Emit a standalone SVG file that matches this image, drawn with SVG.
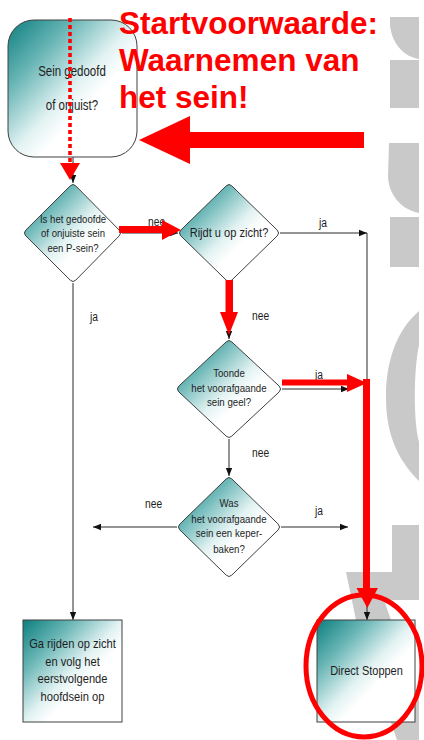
<svg xmlns="http://www.w3.org/2000/svg" width="424" height="740" viewBox="0 0 424 740">
<style>
.node{stroke:#404040;stroke-width:1;fill:url(#teal)}
.t{font-family:"Liberation Sans",Arial,sans-serif;fill:#1e1e1e;text-anchor:middle}
.lbl{font-family:"Liberation Sans",Arial,sans-serif;fill:#1e1e1e;font-size:12.5px}
.ca{stroke:#2a2a2a;stroke-width:1;fill:none;marker-end:url(#ah)}
.red{fill:#ff0000}
.wm{fill:#c9c9c9}
.title{font-family:"Liberation Sans",Arial,sans-serif;font-weight:bold;font-size:31.5px;fill:#ff0000}
</style>
<defs>
<linearGradient id="teal" x1="0" y1="0" x2="1" y2="1">
<stop offset="0" stop-color="#0d7e7e"/>
<stop offset="0.25" stop-color="#68b5b5"/>
<stop offset="0.5" stop-color="#e2f2f2"/>
<stop offset="0.62" stop-color="#ffffff"/>
<stop offset="1" stop-color="#ffffff"/>
</linearGradient>
<marker id="ah" markerWidth="8" markerHeight="8" viewBox="0 0 8 8" refX="8" refY="4" orient="auto" markerUnits="userSpaceOnUse">
<path d="M0,0.8 L8,4 L0,7.2 Z" fill="#111"/>
</marker>
</defs>
<rect width="424" height="740" fill="#ffffff"/>
<g id="watermark" class="wm">
<path d="M390,17 H419 V59 C405,57 392,45 390,25 Z"/>
<rect x="390" y="60" width="29" height="48"/>
<path d="M389,143 H419 V213 C402,210 388,195 388,175 Z"/>
<rect x="390" y="217" width="29" height="50"/>
<path fill-rule="evenodd" d="M419,311 C396,331 386,362 386,397 C386,432 396,458 419,481 Z M419,345 C414,368 413,418 419,442 Z"/>
<rect x="392" y="525" width="27" height="47"/>
<path d="M346,572 H419 V600 H384 L419,700 V740 H397 L356,620 Z"/>
</g>
<g id="connectors">
<line class="ca" x1="73" y1="157" x2="73" y2="183"/>
<line class="ca" x1="122" y1="233" x2="178" y2="233"/>
<line class="ca" x1="280" y1="233" x2="367" y2="233"/>
<line class="ca" x1="367" y1="233" x2="367" y2="620"/>
<line class="ca" x1="229" y1="283" x2="229" y2="339"/>
<line class="ca" x1="282" y1="389" x2="349" y2="389"/>
<line class="ca" x1="229" y1="439" x2="229" y2="476"/>
<line class="ca" x1="177" y1="527" x2="93" y2="527"/>
<line class="ca" x1="281" y1="527" x2="348" y2="527"/>
<line class="ca" x1="73" y1="283" x2="73" y2="620"/>
<text class="lbl" transform="translate(148,226) scale(0.82,1)">nee</text>
<text class="lbl" transform="translate(319,227) scale(0.82,1)">ja</text>
<text class="lbl" transform="translate(90,321) scale(0.82,1)">ja</text>
<text class="lbl" transform="translate(252,320) scale(0.82,1)">nee</text>
<text class="lbl" transform="translate(315,379) scale(0.82,1)">ja</text>
<text class="lbl" transform="translate(252,457) scale(0.82,1)">nee</text>
<text class="lbl" transform="translate(145,508) scale(0.82,1)">nee</text>
<text class="lbl" transform="translate(315,515) scale(0.82,1)">ja</text>
</g>
<g id="start">
<rect class="node" x="8" y="20" width="129" height="137" rx="26" ry="26"/>
<text class="t" font-size="14" transform="translate(72,76) scale(0.82,1)">Sein gedoofd</text>
<text class="t" font-size="14" transform="translate(72,110) scale(0.82,1)">of onjuist?</text>
</g>
<g id="d1">
<path class="node" d="M70.2,185.9 Q73,183 75.8,185.9 L119.2,230.1 Q122,233 119.2,235.9 L75.8,280.1 Q73,283 70.2,280.1 L25.8,235.9 Q23,233 25.8,230.1 Z"/>
<text class="t" font-size="11.7" transform="translate(73,223) scale(0.82,1)">Is het gedoofde</text>
<text class="t" font-size="11.7" transform="translate(73,237) scale(0.82,1)">of onjuiste sein</text>
<text class="t" font-size="11.7" transform="translate(73,252) scale(0.82,1)">een P-sein?</text>
</g>
<g id="d2">
<path class="node" d="M226.2,185.9 Q229,183 231.8,185.9 L277.2,230.1 Q280,233 277.2,235.9 L231.8,280.1 Q229,283 226.2,280.1 L180.8,235.9 Q178,233 180.8,230.1 Z"/>
<text class="t" font-size="13.5" transform="translate(229,237) scale(0.82,1)">Rijdt u op zicht?</text>
</g>
<g id="d3">
<path class="node" d="M226.2,341.9 Q229,339 231.8,341.9 L279.2,386.1 Q282,389 279.2,391.9 L231.8,436.1 Q229,439 226.2,436.1 L178.8,391.9 Q176,389 178.8,386.1 Z"/>
<text class="t" font-size="11.8" transform="translate(229,377) scale(0.82,1)">Toonde</text>
<text class="t" font-size="11.8" transform="translate(229,392) scale(0.82,1)">het voorafgaande</text>
<text class="t" font-size="11.8" transform="translate(229,406) scale(0.82,1)">sein geel?</text>
</g>
<g id="d4">
<path class="node" d="M226.2,478.9 Q229,476 231.8,478.9 L278.2,524.1 Q281,527 278.2,529.9 L231.8,575.1 Q229,578 226.2,575.1 L179.8,529.9 Q177,527 179.8,524.1 Z"/>
<text class="t" font-size="11.8" transform="translate(229,507) scale(0.82,1)">Was</text>
<text class="t" font-size="11.8" transform="translate(229,523) scale(0.82,1)">het voorafgaande</text>
<text class="t" font-size="11.8" transform="translate(229,537) scale(0.82,1)">sein een keper-</text>
<text class="t" font-size="11.8" transform="translate(229,553) scale(0.82,1)">baken?</text>
</g>
<g id="box1">
<rect class="node" x="23" y="620" width="99" height="102"/>
<text class="t" font-size="13.6" transform="translate(72.5,648) scale(0.82,1)">Ga rijden op zicht</text>
<text class="t" font-size="13.6" transform="translate(72.5,666) scale(0.82,1)">en volg het</text>
<text class="t" font-size="13.6" transform="translate(72.5,683) scale(0.82,1)">eerstvolgende</text>
<text class="t" font-size="13.6" transform="translate(72.5,701) scale(0.82,1)">hoofdsein op</text>
</g>
<g id="box2">
<rect class="node" x="317" y="620" width="98" height="102"/>
<text class="t" font-size="13.4" transform="translate(366.5,675) scale(0.82,1)">Direct Stoppen</text>
</g>
<g id="highlights">
<line x1="70" y1="18" x2="70" y2="165" stroke="#ff0000" stroke-width="3.6" stroke-dasharray="4 3"/>
<polygon class="red" points="60,163 80,163 70,180"/>
<rect class="red" x="185" y="132" width="179" height="16"/>
<polygon class="red" points="139,140 190,116 190,164"/>
<rect class="red" x="119" y="226" width="45" height="7"/>
<polygon class="red" points="162,220 181,230 162,240"/>
<rect class="red" x="225.5" y="280" width="7.5" height="34"/>
<polygon class="red" points="220,312 238,312 229,335"/>
<rect class="red" x="282" y="379.5" width="67" height="6"/>
<polygon class="red" points="347,374 367,383 347,392"/>
<rect class="red" x="363" y="379" width="7" height="212"/>
<polygon class="red" points="356.5,588 378,588 367.3,608"/>
<ellipse cx="364" cy="666" rx="58" ry="71" fill="none" stroke="#ff0000" stroke-width="5"/>
</g>
<g id="title">
<text class="title" x="119" y="34">Startvoorwaarde:</text>
<text class="title" x="119" y="71">Waarnemen van</text>
<text class="title" x="119" y="108">het sein!</text>
</g>
</svg>
